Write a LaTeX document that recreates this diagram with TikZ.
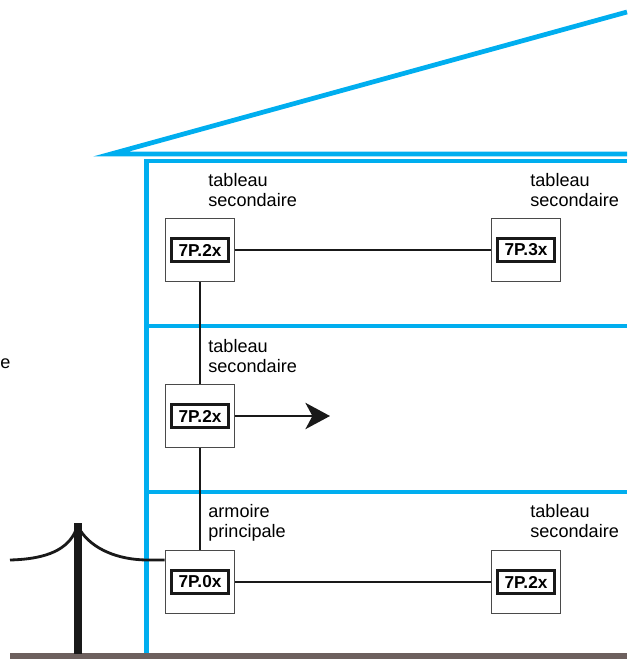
\documentclass[tikz,border=0pt]{standalone}
\usepackage{fontspec}
\setmainfont{Liberation Sans}
\usetikzlibrary{positioning, arrows.meta}

\definecolor{wallblue}{HTML}{00AEEF}
\definecolor{groundgray}{HTML}{6D605E}
\definecolor{boxgray}{HTML}{4A4A4A}

\tikzset{
    wall/.style={draw=wallblue, line width=2.7pt, line join=miter},
    ground/.style={draw=groundgray, line width=3.4pt},
    pole/.style={draw=black!90, line width=4.5pt},
    wire/.style={draw=black!90, line width=1.6pt},
    link/.style={draw=black!90, line width=1.1pt},
    panel/.style={draw=boxgray, fill=white, line width=0.7pt,
        minimum width=39.5pt, minimum height=36pt, inner sep=0pt},
    tag/.style={draw=black!90, line width=1.5pt, minimum width=32.5pt,
        minimum height=13pt, inner sep=0pt, font=\bfseries\fontsize{9.8}{10}\selectfont},
    label/.style={anchor=north west, align=left, inner sep=0pt,
        font=\fontsize{10.3}{11.3}\selectfont}
}

\begin{document}
\begin{tikzpicture}[x=0.02cm, y=-0.02cm]
    \useasboundingbox (0,0) rectangle (627,659);

    % roof and building
    \draw[wall] (627,12) -- (111,154) -- (627,154);
    \draw[wall] (627,161) -- (146.5,161) -- (146.5,656);
    \draw[wall] (146.5,326) -- (627,326);
    \draw[wall] (146.5,492) -- (627,492);

    % ground and pole
    \draw[ground] (10,656) -- (627,656);
    \draw[pole] (78,523) -- (78,654);

    % panels
    \node[panel] (t1) at (200,250) {};
    \node[panel] (t2) at (526,250) {};
    \node[panel] (m1) at (200,416) {};
    \node[panel] (b1) at (200,582) {};
    \node[panel] (b2) at (526,582) {};

    \node[label] (lt1) at (208,173) {tableau\\secondaire};
    \node[label] (lt2) at (530,173) {tableau\\secondaire};
    \node[label] (lm1) at (208,339) {tableau\\secondaire};
    \node[label] (lb1) at (208,504) {armoire\\principale};
    \node[label] (lb2) at (530,504) {tableau\\secondaire};
    \node[anchor=base west, inner sep=0pt, font=\fontsize{10.3}{11.3}\selectfont] (lout) at (0,368) {e};

    % overhead line
    \coordinate (wireL) at (10,560);
    \coordinate (poleL) at (76,530);
    \coordinate (poleR) at (80,530);
    \draw[wire] (wireL) .. controls (48,559) and (68,549) .. (poleL);
    \draw[wire] (poleR) .. controls (92,549) and (118,560) .. (148,560) -- (b1.west |- 0,560);

    % cables
    \coordinate (feed) at (330,416);
    \draw[link] (t1) -- (t2);
    \draw[link] (b1) -- (b2);
    \draw[link] (t1.south) -- (m1.north);
    \draw[link] (m1.south) -- (b1.north);
    \draw[link, -{Stealth[length=14pt, width=15pt, inset=4pt]}] (m1.east) -- (feed);

    % panels on top of the cables
    \node[panel] at (t1) {};
    \node[panel] at (t2) {};
    \node[panel] at (m1) {};
    \node[panel] at (b1) {};
    \node[panel] at (b2) {};
    \node[tag] at (t1) {7P.2x};
    \node[tag] at (t2) {7P.3x};
    \node[tag] at (m1) {7P.2x};
    \node[tag] at (b1) {7P.0x};
    \node[tag] at (b2) {7P.2x};
\end{tikzpicture}
\end{document}
